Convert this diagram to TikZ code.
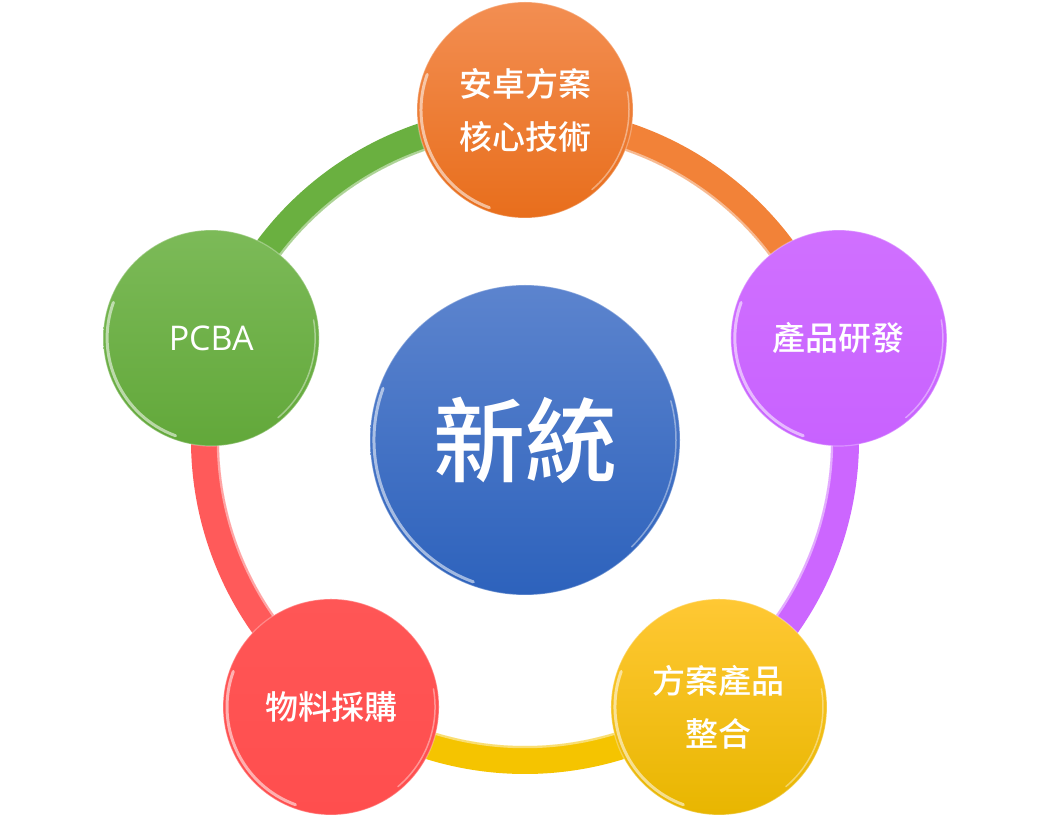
\documentclass[tikz,border=0pt]{standalone}
\usepackage{fontspec}
\setmainfont{Noto Sans CJK TC}
\newfontfamily\medfont{Noto Sans CJK TC Medium}
\newfontfamily\latinfont{Open Sans}
\usetikzlibrary{calc}
\definecolor{orTop}{RGB}{243,142,82}
\definecolor{orBot}{RGB}{232,110,28}
\definecolor{orRing}{RGB}{242,130,56}
\definecolor{puTop}{RGB}{208,112,255}
\definecolor{puBot}{RGB}{200,98,255}
\definecolor{puRing}{RGB}{204,102,255}
\definecolor{yeTop}{RGB}{255,200,52}
\definecolor{yeBot}{RGB}{232,182,0}
\definecolor{yeRing}{RGB}{245,196,0}
\definecolor{reTop}{RGB}{255,86,86}
\definecolor{reBot}{RGB}{255,78,78}
\definecolor{reRing}{RGB}{255,90,90}
\definecolor{grTop}{RGB}{124,186,88}
\definecolor{grBot}{RGB}{98,168,58}
\definecolor{grRing}{RGB}{106,176,64}
\definecolor{blTop}{RGB}{92,132,206}
\definecolor{blBot}{RGB}{45,98,188}
\begin{document}
\begin{tikzpicture}[x=1pt,y=1pt,
  ring/.style={line width=28},
  ringhl/.style={line width=2.5, white, opacity=0.45},
  ball/.style={circle, minimum size=216, inner sep=0, text=white,
    draw=white, draw opacity=0.3, line width=1.2,
    font=\medfont\fontsize{33}{53}\selectfont, align=center},
  hl/.style={white, line width=3, opacity=0.55, line cap=round},
  hlthin/.style={white, line width=1.5, opacity=0.4, line cap=round}]
\useasboundingbox (0,0) rectangle (1050,820);
\coordinate (c) at (525,380);
% ring points
\coordinate (rT) at ($(c)+(90:320)$);
\coordinate (rR) at ($(c)+(18:320)$);
\coordinate (rBR) at ($(c)+(-54:320)$);
\coordinate (rBL) at ($(c)+(-126:320)$);
\coordinate (rL) at ($(c)+(162:320)$);
\coordinate (iT) at ($(c)+(90:307)$);
\coordinate (iR) at ($(c)+(18:307)$);
\coordinate (iBR) at ($(c)+(-54:307)$);
\coordinate (iBL) at ($(c)+(-126:307)$);
\coordinate (iL) at ($(c)+(162:307)$);
% ring segments
\draw[ring, orRing] (rT) arc[start angle=90, end angle=18, radius=320];
\draw[ring, puRing] (rR) arc[start angle=18, end angle=-54, radius=320];
\draw[ring, yeRing] (rBR) arc[start angle=-54, end angle=-126, radius=320];
\draw[ring, reRing] (rBL) arc[start angle=-126, end angle=-198, radius=320];
\draw[ring, grRing] (rL) arc[start angle=162, end angle=90, radius=320];
\draw[ringhl] (iT) arc[start angle=90, end angle=18, radius=307];
\draw[ringhl] (iR) arc[start angle=18, end angle=-54, radius=307];
\draw[ringhl] (iBR) arc[start angle=-54, end angle=-126, radius=307];
\draw[ringhl] (iBL) arc[start angle=-126, end angle=-198, radius=307];
\draw[ringhl] (iL) arc[start angle=162, end angle=90, radius=307];
% nodes
\node[ball, top color=orTop, bottom color=orBot] (top) at ($(c)+(90:330)$) {安卓方案\\核心技術};
\node[ball, top color=puTop, bottom color=puBot] (right) at ($(c)+(18:330)$) {產品研發};
\node[ball, top color=yeTop, bottom color=yeBot] (bright) at ($(c)+(-54:330)$) {方案產品\\整合};
\node[ball, top color=reTop, bottom color=reBot] (bleft) at ($(c)+(-126:330)$) {物料採購};
\node[ball, top color=grTop, bottom color=grBot, font=\latinfont\fontsize{34}{40}\selectfont] (left) at ($(c)+(162:330)$) {PCBA};
\node[circle, minimum size=310, inner sep=0, top color=blTop, bottom color=blBot,
  draw=white, draw opacity=0.3, line width=1.2,
  text=white, font=\medfont\fontsize{92}{92}\selectfont] (core) at (c) {新統};
% glossy rims
\foreach \n in {top,right,bright,bleft,left}{
  \draw[hl] ($(\n.center)+(160:104)$) arc[start angle=160, end angle=250, radius=104];
  \draw[hlthin] ($(\n.center)+(10:104)$) arc[start angle=10, end angle=-50, radius=104];
}
\draw[hl] ($(core.center)+(160:151)$) arc[start angle=160, end angle=250, radius=151];
\draw[hlthin] ($(core.center)+(15:151)$) arc[start angle=15, end angle=-45, radius=151];
\end{tikzpicture}
\end{document}
